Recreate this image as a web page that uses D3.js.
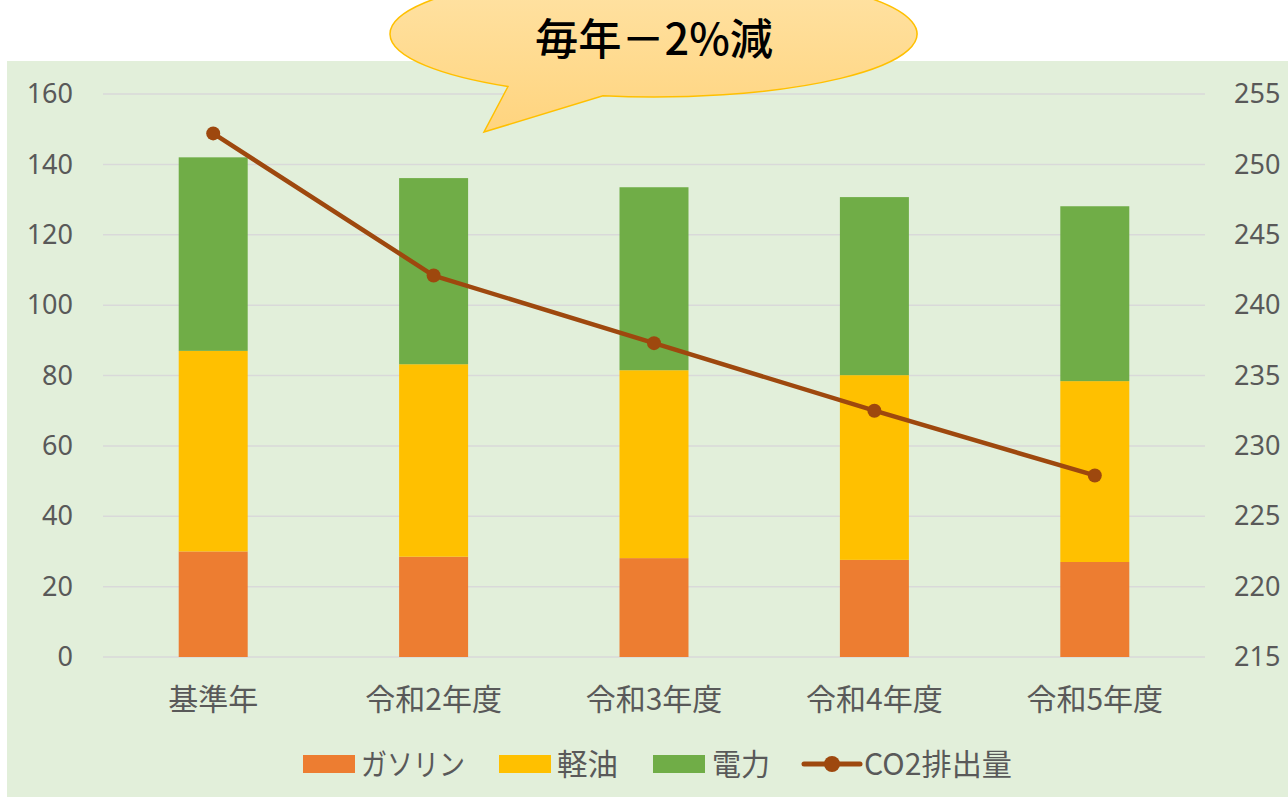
<!DOCTYPE html>
<html>
<head>
<meta charset="utf-8">
<script src="https://cdn.jsdelivr.net/npm/d3@7"></script>
<style>
  body { margin: 0; background: #ffffff; }
  text { font-family: "Noto Sans CJK JP", "Noto Sans", sans-serif; }
</style>
</head>
<body>
<script>
//Chart data
var categories = ["基準年", "令和2年度", "令和3年度", "令和4年度", "令和5年度"];
var gasoline = [30, 28.5, 28.1, 27.6, 27.0];
var diesel = [57, 54.7, 53.4, 52.5, 51.4];
var electric = [55, 52.9, 52.0, 50.6, 49.7];
var co2 = [252.2, 242.1, 237.3, 232.5, 227.9];
var seriesNames = ["ガソリン", "軽油", "電力"];
var leftTicks = [0, 20, 40, 60, 80, 100, 120, 140, 160];
var rightTicks = [215, 220, 225, 230, 235, 240, 245, 250, 255];
var lineName = "CO2排出量";
var calloutText = "毎年－2%減";

var W = 1288;
var H = 797;
var colors = ["#ED7D31", "#FFC000", "#70AD47"];
var lineColor = "#9E480E";
var textColor = "#595959";

function main() {
  var svg = d3.select("body").append("svg")
    .attr("width", W)
    .attr("height", H);

  //Plot area background
  svg.append("rect")
    .attr("x", 7).attr("y", 61)
    .attr("width", W - 7).attr("height", H - 61)
    .attr("fill", "#E2EFDA");

  var left = 103, right = 1205, top = 94, bottom = 657;

  var xScale = d3.scaleBand()
    .domain(categories)
    .range([left, right])
    .paddingInner(0.687)
    .paddingOuter(0.3435);
  var yScale = d3.scaleLinear().domain([0, 160]).range([bottom, top]);
  var y2Scale = d3.scaleLinear().domain([215, 255]).range([bottom, top]);

  //Gridlines
  svg.append("g").selectAll("line")
    .data(leftTicks)
    .enter().append("line")
    .attr("x1", left).attr("x2", right)
    .attr("y1", function(d) { return yScale(d); })
    .attr("y2", function(d) { return yScale(d); })
    .attr("stroke", "#D9D9D9")
    .attr("stroke-width", 1.5);

  //Left axis
  var yAxis = d3.axisLeft(yScale).tickValues(leftTicks).tickSize(0).tickPadding(0);
  var gy = svg.append("g")
    .attr("transform", "translate(73,0)")
    .call(yAxis);
  gy.select(".domain").remove();
  gy.selectAll("text")
    .attr("fill", textColor)
    .style("font-family", "'Noto Sans', sans-serif")
    .style("font-size", "27px");

  //Right axis
  var y2Axis = d3.axisRight(y2Scale).tickValues(rightTicks).tickSize(0).tickPadding(0);
  var gy2 = svg.append("g")
    .attr("transform", "translate(1234,0)")
    .call(y2Axis);
  gy2.select(".domain").remove();
  gy2.selectAll("text")
    .attr("fill", textColor)
    .style("font-family", "'Noto Sans', sans-serif")
    .style("font-size", "27px");

  //Stacked bars
  var rows = categories.map(function(c, i) {
    return { cat: c, g: gasoline[i], d: diesel[i], e: electric[i] };
  });
  var stack = d3.stack().keys(["g", "d", "e"]);
  var layers = stack(rows);

  svg.append("g").selectAll("g")
    .data(layers)
    .enter().append("g")
    .attr("fill", function(d, i) { return colors[i]; })
    .selectAll("rect")
    .data(function(d) { return d; })
    .enter().append("rect")
    .attr("x", function(d) { return xScale(d.data.cat); })
    .attr("width", xScale.bandwidth())
    .attr("y", function(d) { return yScale(d[1]); })
    .attr("height", function(d) { return yScale(d[0]) - yScale(d[1]); });

  //X axis labels
  var xAxis = d3.axisBottom(xScale).tickSize(0).tickPadding(0);
  var gx = svg.append("g")
    .attr("transform", "translate(0,699)")
    .call(xAxis);
  gx.select(".domain").remove();
  gx.selectAll("text")
    .attr("fill", textColor)
    .attr("dy", "0.36em")
    .style("font-size", "30px");

  //CO2 line
  var line = d3.line()
    .x(function(d, i) { return xScale(categories[i]) + xScale.bandwidth() / 2; })
    .y(function(d) { return y2Scale(d); });
  svg.append("path")
    .datum(co2)
    .attr("d", line)
    .attr("fill", "none")
    .attr("stroke", lineColor)
    .attr("stroke-width", 4.5)
    .attr("stroke-linejoin", "round");
  svg.append("g").selectAll("circle")
    .data(co2)
    .enter().append("circle")
    .attr("cx", function(d, i) { return xScale(categories[i]) + xScale.bandwidth() / 2; })
    .attr("cy", function(d) { return y2Scale(d); })
    .attr("r", 7)
    .attr("fill", lineColor);

  //Legend
  var legendY = 764;
  var swatchX = [303, 499, 653];
  var textX = [361, 557, 712];
  var textW = [104, 61, 58];
  seriesNames.forEach(function(name, i) {
    svg.append("rect")
      .attr("x", swatchX[i]).attr("y", legendY - 9)
      .attr("width", 52).attr("height", 18)
      .attr("fill", colors[i]);
    svg.append("text")
      .attr("x", textX[i]).attr("y", legendY)
      .attr("dy", "0.36em")
      .attr("fill", textColor)
      .attr("textLength", textW[i])
      .attr("lengthAdjust", "spacingAndGlyphs")
      .style("font-size", "30px")
      .text(name);
  });
  svg.append("line")
    .attr("x1", 804).attr("x2", 860)
    .attr("y1", legendY).attr("y2", legendY)
    .attr("stroke", lineColor).attr("stroke-width", 5)
    .attr("stroke-linecap", "round");
  svg.append("circle")
    .attr("cx", 832).attr("cy", legendY).attr("r", 8)
    .attr("fill", lineColor);
  svg.append("text")
    .attr("x", 864).attr("y", legendY)
    .attr("dy", "0.36em")
    .attr("fill", textColor)
    .attr("textLength", 148)
    .attr("lengthAdjust", "spacingAndGlyphs")
    .style("font-size", "30px")
    .text(lineName);

  //Callout bubble
  var defs = svg.append("defs");
  var grad = defs.append("linearGradient")
    .attr("id", "bubble")
    .attr("x1", 0).attr("y1", 0).attr("x2", 0).attr("y2", 1);
  grad.append("stop").attr("offset", "0%").attr("stop-color", "#FFE3A6");
  grad.append("stop").attr("offset", "100%").attr("stop-color", "#FFD47E");

  var cx = 653.5, cy = 34, rx = 263.5, ry = 63;
  //Tail joins ellipse at two points on its lower edge
  function ptAt(x) {
    var t = (x - cx) / rx;
    return [x, cy + ry * Math.sqrt(1 - t * t)];
  }
  var p1 = ptAt(508), p2 = ptAt(603);
  var path = "M" + p1[0] + "," + p1[1] +
    " L484,132 L" + p2[0] + "," + p2[1] +
    " A" + rx + "," + ry + " 0 1 0 " + p1[0] + "," + p1[1] + " Z";
  svg.append("path")
    .attr("d", path)
    .attr("fill", "url(#bubble)")
    .attr("stroke", "#FFC000")
    .attr("stroke-width", 1.5);

  svg.append("text")
    .attr("x", 535).attr("y", 36)
    .attr("dominant-baseline", "central")
    .attr("fill", "#000000")
    .attr("textLength", 238)
    .attr("lengthAdjust", "spacingAndGlyphs")
    .style("font-size", "43px")
    .style("font-weight", "500")
    .text(calloutText);
}

main();
</script>
</body>
</html>
